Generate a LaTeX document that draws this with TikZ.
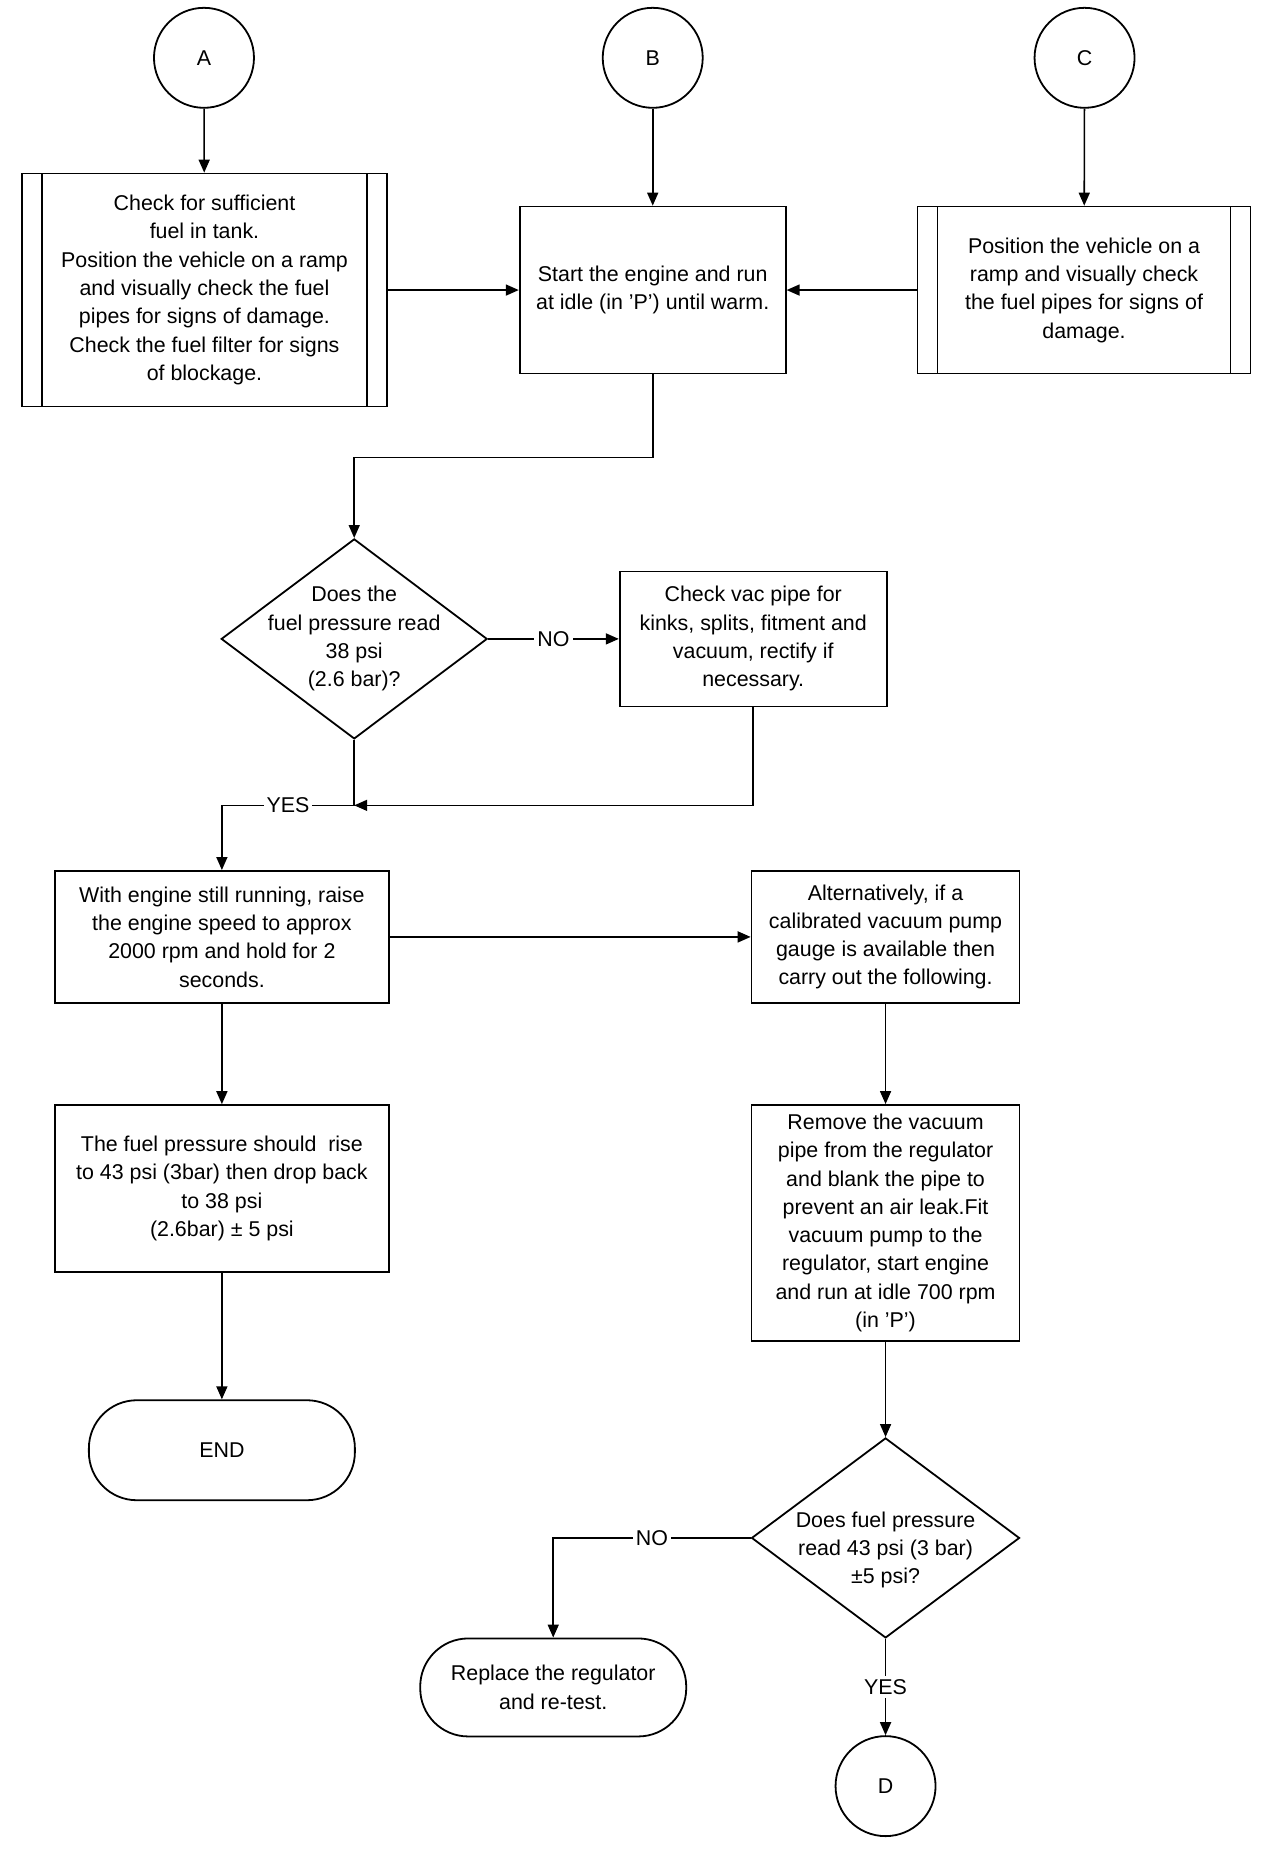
\documentclass[tikz,border=0pt]{standalone}
\usepackage{fontspec}
\setmainfont{Liberation Sans}
\usetikzlibrary{shapes.geometric, arrows.meta, positioning}
\newcommand{\flowfont}{\fontsize{10.7pt}{14.15pt}\selectfont}

\begin{document}
\begin{tikzpicture}[
    x=0.4975pt, y=-0.49835pt,
    every node/.style={font=\flowfont},
    box/.style={
        draw,
        line width=0.9pt,
        align=center,
        inner sep=2pt
    },
    procbox/.style={
        box,
        path picture={
            \draw[line width=0.9pt] ([xshift=10pt]path picture bounding box.north west) -- ([xshift=10pt]path picture bounding box.south west);
            \draw[line width=0.9pt] ([xshift=-10pt]path picture bounding box.north east) -- ([xshift=-10pt]path picture bounding box.south east);
        }
    },
    decision/.style={
        draw,
        diamond,
        line width=0.9pt,
        inner sep=0pt,
        minimum width=133pt,
        minimum height=100pt
    },
    terminal/.style={
        box,
        rounded corners=24pt,
        minimum width=133pt
    },
    onpage/.style={
        draw,
        circle,
        line width=0.9pt,
        minimum size=50pt,
        inner sep=0pt
    },
    arrow/.style={
        -{Triangle[length=6.5pt,width=5.5pt]},
        line width=0.8pt
    },
    lbl/.style={fill=white, inner sep=1.5pt}
]
\useasboundingbox (0,0) rectangle (1286.4,1856.1);

% Entry points
\node[onpage] (A) at (205,58) {A};
\node[onpage] (B) at (656,58) {B};
\node[onpage] (C) at (1090,58) {C};

% First row
\node[procbox, minimum width=182.5pt, minimum height=116.5pt] (fuel) at (205.5,291) {Check for sufficient\\fuel in tank.\\Position the vehicle on a ramp\\and visually check the fuel\\pipes for signs of damage.\\Check the fuel filter for signs\\of blockage.};
\node[box, minimum width=133pt, minimum height=83.5pt] (start) at (656,291) {Start the engine and run\\at idle (in 'P') until warm.};
\node[procbox, minimum width=166.5pt, minimum height=83.5pt] (ramp) at (1089.5,291) {Position the vehicle on a\\ramp and visually check\\the fuel pipes for signs of\\damage.};

% First check
\node[decision, label={[align=center]center:Does the\\fuel pressure read\\38 psi\\(2.6 bar)?}] (q1) at (356,641) {};
\node[box, minimum width=133.5pt, minimum height=67.5pt] (vac) at (757,641) {Check vac pipe for\\kinks, splits, fitment and\\vacuum, rectify if\\necessary.};

% Raised speed
\node[box, minimum width=167pt, minimum height=66pt] (raise) at (223,940) {With engine still running, raise\\the engine speed to approx\\2000 rpm and hold for 2\\seconds.};
\node[box, minimum width=134pt, minimum height=66pt] (alt) at (890,940) {Alternatively, if a\\calibrated vacuum pump\\gauge is available then\\carry out the following.};
\node[box, minimum width=167pt, minimum height=83.5pt] (rise) at (223,1192.5) {The fuel pressure should \ rise\\to 43 psi (3bar) then drop back\\to 38 psi\\(2.6bar) ± 5 psi};
\node[box, minimum width=134pt, minimum height=118pt] (pump) at (890,1227) {Remove the vacuum\\pipe from the regulator\\and blank the pipe to\\prevent an air leak.Fit\\vacuum pump to the\\regulator, start engine\\and run at idle 700 rpm\\(in 'P')};

% Ends
\node[terminal, minimum height=50pt] (end) at (223,1455) {END};
\node[decision, minimum width=134pt, label={[align=center, yshift=-6pt]center:Does fuel pressure\\read 43 psi (3 bar)\\±5 psi?}] (q2) at (890,1543) {};
\node[terminal, minimum height=49pt] (replace) at (556,1693) {Replace the regulator\\and re-test.};
\node[onpage] (D) at (890,1792) {D};

% Junctions
\coordinate (j1) at (356,459);
\coordinate (m1) at (356,808);

% Arrows
\draw[arrow] (A) -- (fuel);
\draw[arrow] (B) -- (start);
\draw[arrow] (C) -- (ramp);
\draw[arrow] (fuel.east) -- (start.west);
\draw[arrow] (ramp.west) -- (start.east);
\draw[arrow] (start.south) |- (j1) -- (q1.north);
\draw[arrow] (q1.east) -- node[lbl] {NO} (vac.west);
\draw[arrow] (vac.south) |- (m1);
\draw[arrow] (q1.south) -- (m1) -| node[pos=0.25, lbl] {YES} (raise.north);
\draw[arrow] (raise.east) -- (alt.west);
\draw[arrow] (raise) -- (rise);
\draw[arrow] (alt) -- (pump);
\draw[arrow] (rise) -- (end);
\draw[arrow] (pump.south) -- (q2.north);
\draw[arrow] (q2.west) -| node[pos=0.25, lbl] {NO} (replace.north);
\draw[arrow] (q2.south) -- node[lbl] {YES} (D.north);

\end{tikzpicture}
\end{document}
